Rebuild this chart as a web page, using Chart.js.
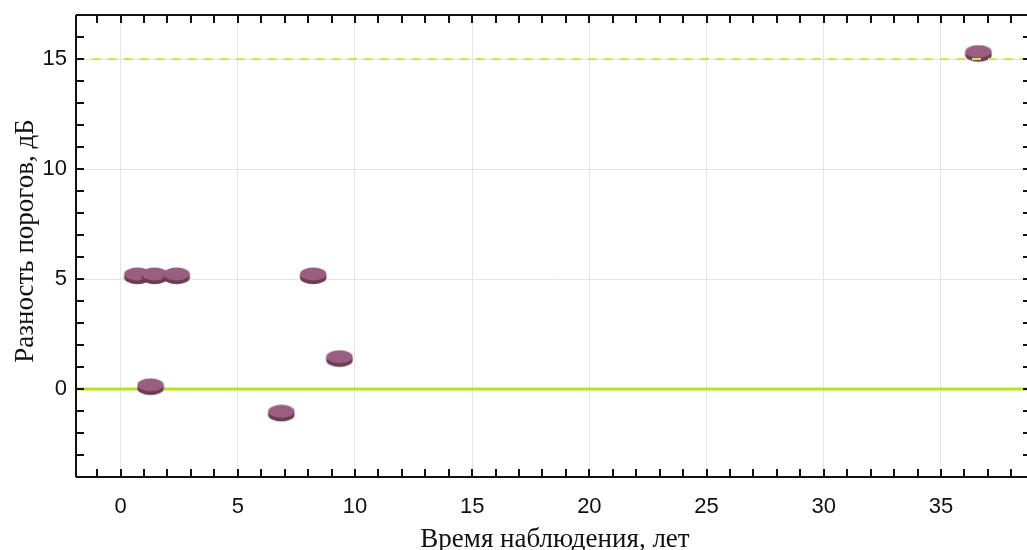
<!DOCTYPE html>
<html>
<head>
<meta charset="utf-8">
<script src="https://cdn.jsdelivr.net/npm/chart.js@4"></script>
<style>
  html, body { margin: 0; padding: 0; background: #fff; overflow: hidden; }
  #wrap { width: 1036px; height: 550px; }
</style>
</head>
<body>
<div id="wrap"><canvas id="chart" width="1036" height="550"></canvas></div>
<script>
// observation time (years) and threshold difference (dB)
const years = [0.72, 1.45, 2.39, 1.28, 6.86, 8.22, 9.34, 36.6];
const diffs = [5.14, 5.14, 5.14, 0.1, -1.1, 5.14, 1.38, 15.25];

const xRange = [-1.9, 38.84];
const yRange = [-4, 17];

const zeroLevel = 0;
const upperLevel = 15;

// disc-shaped marker: dark rim underneath, lighter top face
function makeDisc(){
    const c = document.createElement('canvas');
    c.width = 28; c.height = 18;
    const g = c.getContext('2d');
    g.fillStyle = '#6a3b57';
    g.beginPath();
    g.ellipse(14, 10.8, 13.2, 6.4, 0, 0, Math.PI * 2);
    g.fill();
    g.fillRect(0.8, 7, 26.4, 3.8);
    g.fillStyle = '#9a5f80';
    g.beginPath();
    g.ellipse(14, 7, 13.2, 6.4, 0, 0, Math.PI * 2);
    g.fill();
    return c;
}

const ints = (a, b) => {
    const out = [];
    for(let v = Math.ceil(a); v <= Math.floor(b); v++) out.push({ value: v });
    return out;
};

// frame + inward ticks on all four sides
const framePlugin = {
    id: 'frame',
    afterDraw(ch){
        const { ctx, chartArea: a, scales } = ch;
        ctx.save();
        ctx.strokeStyle = '#111';
        ctx.lineWidth = 2;
        ctx.beginPath();
        ctx.moveTo(a.left, a.top); ctx.lineTo(a.right, a.top);
        ctx.moveTo(a.left, a.top); ctx.lineTo(a.left, a.bottom);
        ctx.moveTo(a.left, a.bottom); ctx.lineTo(a.right, a.bottom);
        ctx.moveTo(a.right, a.top); ctx.lineTo(a.right, a.bottom);
        ints(xRange[0], xRange[1]).forEach(t => {
            const px = Math.round(scales.x.getPixelForValue(t.value));
            ctx.moveTo(px, a.bottom); ctx.lineTo(px, a.bottom - 8);
            ctx.moveTo(px, a.top); ctx.lineTo(px, a.top + 8);
        });
        ints(yRange[0], yRange[1]).forEach(t => {
            const py = Math.round(scales.y.getPixelForValue(t.value));
            ctx.moveTo(a.left, py); ctx.lineTo(a.left + 8, py);
            ctx.moveTo(a.right, py); ctx.lineTo(a.right - 8, py);
        });
        ctx.stroke();

        // axis titles
        ctx.fillStyle = '#111';
        ctx.font = '27px "Liberation Serif", "Times New Roman", serif';
        ctx.textAlign = 'center';
        ctx.textBaseline = 'alphabetic';
        ctx.fillText('Время наблюдения, лет', 555, 547);
        ctx.translate(33, 241);
        ctx.rotate(-Math.PI / 2);
        ctx.fillText('Разность порогов, дБ', 0, 0);
        ctx.restore();
    }
};

const tickFont = { family: '"Liberation Sans", sans-serif', size: 22 };
const gridColor = c => (c.tick && c.tick.value % 5 === 0) ? '#e4e4e4' : 'rgba(0,0,0,0)';

new Chart(document.getElementById('chart').getContext('2d'), {
    type: 'scatter',
    data: {
        datasets: [
            {
                type: 'line',
                data: xRange.map(x => ({ x: x, y: upperLevel })),
                borderColor: '#cde653',
                borderWidth: 2,
                borderDash: [9, 7],
                pointRadius: 0,
                order: 0
            },
            {
                data: years.map((x, i) => ({ x: x, y: diffs[i] })),
                pointStyle: makeDisc(),
                order: 1
            },
            {
                type: 'line',
                data: xRange.map(x => ({ x: x, y: zeroLevel })),
                borderColor: '#b6e31f',
                borderWidth: 3,
                pointRadius: 0,
                order: 2
            }
        ]
    },
    options: {
        responsive: false,
        animation: false,
        layout: { padding: { top: 15, right: 2, left: 0, bottom: 0 } },
        plugins: { legend: { display: false }, tooltip: { enabled: false } },
        scales: {
            x: {
                type: 'linear',
                min: xRange[0], max: xRange[1],
                afterBuildTicks: s => { s.ticks = ints(xRange[0], xRange[1]); },
                afterFit: s => {
                    s.height = 73;
                    s.paddingLeft = 0; s.paddingRight = 0;
                },
                ticks: {
                    autoSkip: false,
                    maxRotation: 0,
                    padding: 17,
                    color: '#111',
                    font: tickFont,
                    callback: v => (v % 5 === 0 ? String(v) : '')
                },
                grid: { color: gridColor, drawTicks: false, lineWidth: 1 },
                border: { display: false }
            },
            y: {
                type: 'linear',
                min: yRange[0], max: yRange[1],
                afterBuildTicks: s => { s.ticks = ints(yRange[0], yRange[1]); },
                afterFit: s => {
                    s.width = 76;
                    s.paddingTop = 0; s.paddingBottom = 0;
                },
                ticks: {
                    autoSkip: false,
                    padding: 9,
                    color: '#111',
                    font: tickFont,
                    callback: v => (v % 5 === 0 ? String(v) : '')
                },
                grid: { color: gridColor, drawTicks: false, lineWidth: 1 },
                border: { display: false }
            }
        }
    },
    plugins: [framePlugin]
});
</script>
</body>
</html>
